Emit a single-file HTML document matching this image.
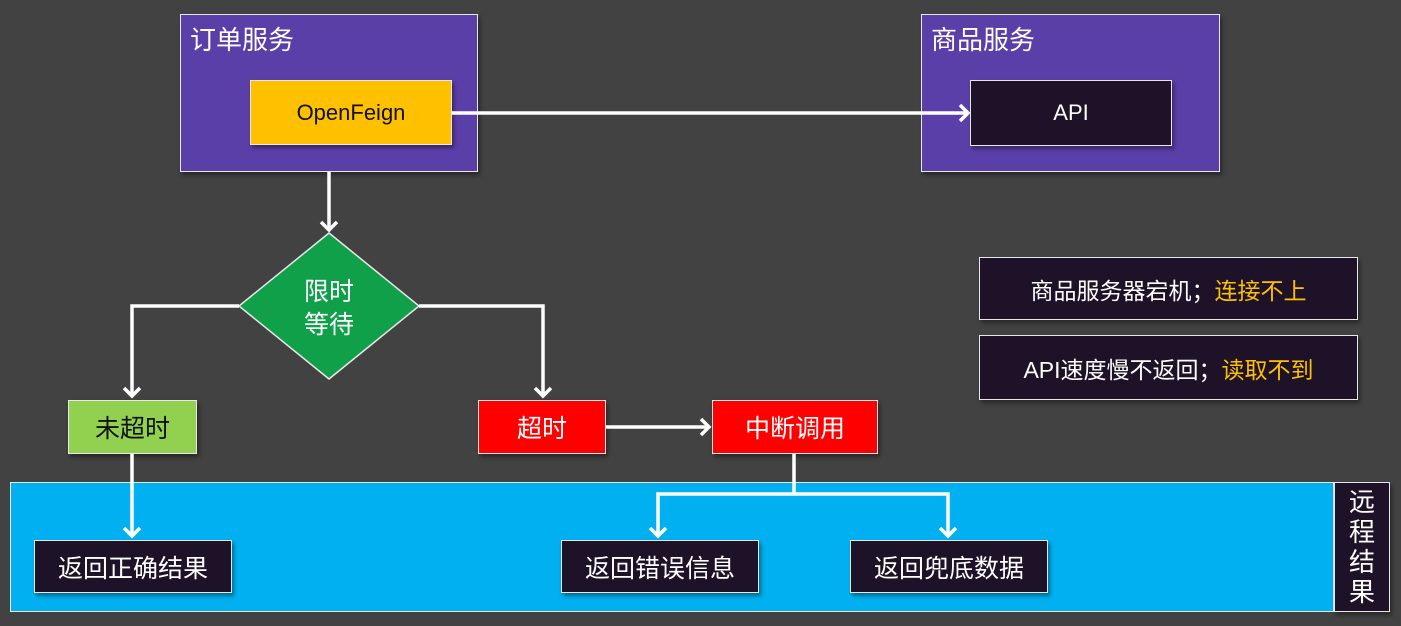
<!DOCTYPE html>
<html><head><meta charset="utf-8"><style>
body{margin:0;width:1401px;height:626px;background:#424242;position:relative;overflow:hidden;font-family:"Liberation Sans","Noto Sans CJK SC",sans-serif;}
.b{position:absolute;box-sizing:border-box;border:1.5px solid #e8e8e8;display:flex;align-items:center;justify-content:center;color:#fff;font-size:25px;box-shadow:2px 3px 4px rgba(0,0,0,.4);}
.t{position:absolute;color:#fff;font-size:26px;}
</style></head><body>
<div class="b" style="left:180px;top:14px;width:298px;height:158px;background:#5b3fa8;"></div>
<div class="t" style="left:190px;top:20px;">订单服务</div>
<div class="b" style="left:921px;top:14px;width:299px;height:158px;background:#5b3fa8;"></div>
<div class="t" style="left:931px;top:20px;">商品服务</div>
<div class="b" style="left:250px;top:80px;width:202px;height:65px;background:#ffc000;color:#111;font-size:22px;">OpenFeign</div>
<div class="b" style="left:970px;top:80px;width:202px;height:66px;background:#1e1228;font-size:22px;">API</div>
<div class="b" style="left:10px;top:482px;width:1324px;height:130px;background:#00b0f0;box-shadow:none;"></div>
<div class="b" style="left:1334px;top:482px;width:56px;height:130px;background:#1e1228;flex-direction:column;line-height:30px;font-size:26px;">远<br>程<br>结<br>果</div>
<div class="b" style="left:68px;top:400px;width:129px;height:54px;background:#92d050;color:#111;">未超时</div>
<div class="b" style="left:478px;top:400px;width:128px;height:54px;background:#ff0000;">超时</div>
<div class="b" style="left:712px;top:400px;width:166px;height:54px;background:#ff0000;">中断调用</div>
<div class="b" style="left:34px;top:540px;width:198px;height:53px;background:#1e1228;">返回正确结果</div>
<div class="b" style="left:561px;top:540px;width:198px;height:53px;background:#1e1228;">返回错误信息</div>
<div class="b" style="left:850px;top:540px;width:198px;height:53px;background:#1e1228;">返回兜底数据</div>
<div class="b" style="left:979px;top:257px;width:379px;height:63px;background:#1e1228;font-size:23px;">商品服务器宕机；<span style="color:#ffc000">连接不上</span></div>
<div class="b" style="left:979px;top:335px;width:379px;height:65px;background:#1e1228;font-size:23px;">API速度慢不返回；<span style="color:#ffc000">读取不到</span></div>
<svg width="1401" height="626" style="position:absolute;left:0;top:0;">
<polygon points="329,233 419,306 329,379 239,306" fill="#11a04a" stroke="#e8e8e8" stroke-width="1.5"/>
<text x="329" y="300" fill="#fff" font-size="25" text-anchor="middle" font-family="Liberation Sans,Noto Sans CJK SC,sans-serif">限时</text>
<text x="329" y="333" fill="#fff" font-size="25" text-anchor="middle" font-family="Liberation Sans,Noto Sans CJK SC,sans-serif">等待</text>
<g fill="none" stroke="#fff" stroke-width="3.5" stroke-linejoin="miter">
<path d="M452,113H968"/><path d="M960,105L968,113L960,121"/>
<path d="M329,172V230"/><path d="M321,222L329,230L337,222"/>
<path d="M239,306H132V396"/><path d="M124,388L132,396L140,388"/>
<path d="M419,306H543V396"/><path d="M535,388L543,396L551,388"/>
<path d="M606,427H709"/><path d="M701,419L709,427L701,435"/>
<path d="M132,454V536"/><path d="M124,528L132,536L140,528"/>
<path d="M794,454V494H658V536M794,494H948V536"/>
<path d="M650,528L658,536L666,528"/><path d="M940,528L948,536L956,528"/>
</g>
</svg>
</body></html>
